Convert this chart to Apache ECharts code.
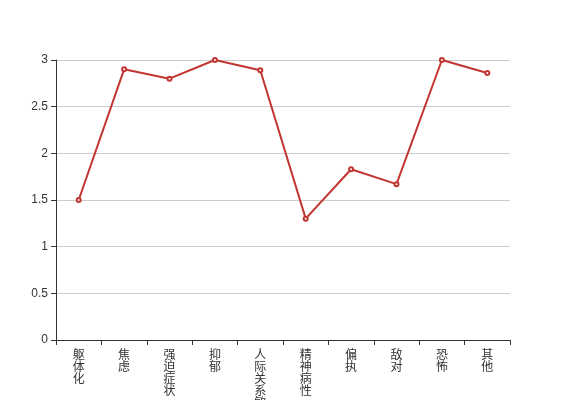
<!DOCTYPE html>
<html>
<head>
<meta charset="utf-8">
<script src="https://cdn.jsdelivr.net/npm/echarts@6/dist/echarts.min.js"></script>
<style>
  html, body { margin: 0; padding: 0; background: #fff; }
  #chart { width: 567px; height: 400px; }
</style>
</head>
<body>
<div id="chart"></div>
<script>
const categories = ['躯体化', '焦虑', '强迫症状', '抑郁', '人际关系敏感', '精神病性', '偏执', '敌对', '恐怖', '其他']
const scores = [1.5, 2.9, 2.8, 3.0, 2.89, 1.3, 1.83, 1.67, 3.0, 2.86]

const chart = echarts.init(document.getElementById('chart'))
chart.setOption({
  animation: false,
  grid: { left: 56, right: 57, top: 60, bottom: 60, containLabel: false, outerBoundsMode: 'none' },
  xAxis: {
    type: 'category',
    data: categories,
    boundaryGap: true,
    axisLine: { lineStyle: { color: '#333' } },
    axisTick: { show: true, alignWithLabel: false, length: 5, lineStyle: { color: '#333' } },
    axisLabel: {
      interval: 0,
      color: '#333',
      fontSize: 12,
      lineHeight: 12,
      fontFamily: 'Noto Sans CJK SC',
      formatter: v => v.split('').join('\n')
    }
  },
  yAxis: {
    type: 'value',
    min: 0,
    max: 3,
    interval: 0.5,
    axisLine: { show: true, lineStyle: { color: '#333' } },
    axisTick: { show: true, length: 5, lineStyle: { color: '#333' } },
    axisLabel: { color: '#333', fontSize: 12, fontFamily: 'sans-serif' },
    splitLine: { lineStyle: { color: '#ccc' } }
  },
  series: [{
    type: 'line',
    data: scores,
    symbol: 'emptyCircle',
    symbolSize: 4,
    itemStyle: { color: '#c23531' },
    lineStyle: { color: '#c23531', width: 2 }
  }]
})
</script>
</body>
</html>
